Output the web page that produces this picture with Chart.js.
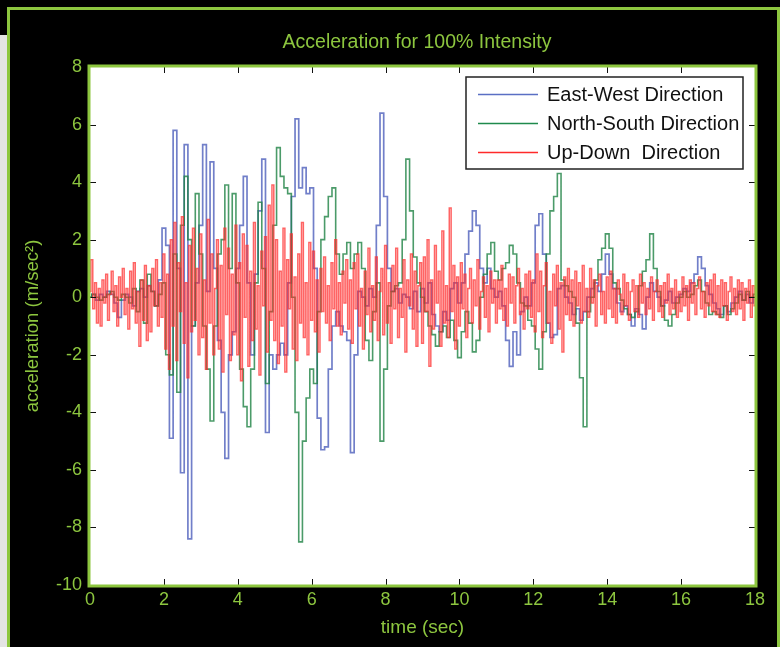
<!DOCTYPE html>
<html lang="en">
<head>
<meta charset="UTF-8" />
<title>Acceleration for 100% Intensity</title>
<script src="https://cdn.jsdelivr.net/npm/chart.js"></script>
<style>
  html, body { margin: 0; padding: 0; background: #000; }
  body { width: 780px; height: 647px; position: relative; overflow: hidden; }
  .side { position: absolute; left: 0; top: 35px; width: 7px; height: 612px; background: #e4e4e4; }
  .frame { position: absolute; left: 7px; top: 7px; width: 767px; height: 660px; border: 3px solid #8dc63f; }
  canvas { position: absolute; left: 0; top: 0; }
</style>
</head>
<body>
<div class="side"></div>
<div class="frame"></div>
<canvas id="accelChart" width="780" height="647"></canvas>

<script>
// sampling step (sec) of the horizontal records and of the vertical record
const stepHoriz = 0.1;
const stepVert = 0.05;

// East-West record, one value per 0.1 s (0 .. 18 s)
const eastWest = [
  0.0, 0.1, -0.1, 0.1, 0.0, 0.2, 0.1, -0.2, -0.7, -0.1,
  0.1, 0.0, -0.3, 0.2, 0.3, 0.0, 0.4, 0.2, -0.3, 0.6,
  2.4, 1.8, -4.9, 5.8, 1.0, -6.1, 5.3, -8.4, -1.0, 0.5,
  2.5, 5.3, 0.2, 4.7, 1.0, -1.5, -4.0, -5.6, -2.0, -1.2,
  1.0, 2.5, 4.2, 0.5, -2.0, 0.8, 3.0, 4.8, -4.7, -2.0,
  -2.5, -2.0, -1.6, -2.0, 0.5, 3.5, 6.2, 3.8, 4.5, 3.6,
  3.8, 1.0, -4.2, -5.3, -5.2, -2.5, -1.0, -0.5, -1.0, -1.2,
  -1.5, -5.4, -2.0, 0.2, 0.0, -0.3, 0.3, 0.0, 2.5, 6.4,
  3.5, 1.0, 0.2, 0.3, -0.2, 0.1, 0.0, -0.4, 0.2, -0.5,
  0.3, -0.2, 0.5, -0.6, -1.0, -1.2, -0.5, -0.8, 0.3, 0.5,
  -0.2, 0.5, 1.5, 2.3, 3.0, 2.5, 1.0, 0.5, 1.0, 0.3,
  0.0, 0.2, -0.3, -1.5, -2.4, -1.2, -2.0, -0.5, 0.0, -0.3,
  0.5, 2.5, 2.9, 1.5, -0.9, -1.4, -1.3, 0.3, 0.4, 0.0,
  -0.2, -0.6, -0.4, -0.8, -0.5, 0.0, 0.3, 0.5, 0.2, 0.8,
  1.5, 0.8, 0.3, -0.2, -0.5, -0.3, -0.6, -1.0, -0.4, -0.6,
  -1.1, 0.0, 0.5, 0.2, 0.0, -0.3, -0.1, 0.2, -0.2, 0.0,
  0.1, 0.3, 0.2, 0.5, 0.8, 1.4, 1.0, 0.4, 0.1, -0.2,
  -0.4, -0.6, -0.3, -0.5, -0.2, 0.0, 0.2, -0.1, 0.1, -0.2,
  0.0
];

// North-South record, one value per 0.1 s
const northSouth = [
  0.0, 0.1, 0.0, -0.1, 0.0, 0.1, 0.2, 0.0, -0.1, 0.1,
  0.0, -0.2, 0.3, -0.5, 0.6, -0.9, 0.8, 0.2, -0.3, 0.1,
  0.5, -2.0, -2.7, 1.5, -3.3, 2.5, 4.2, 2.0, -1.0, 3.6,
  1.5, -1.0, -2.5, -4.3, -1.0, 1.5, 2.0, 3.9, 1.0, 3.6,
  0.5, -2.5, -3.8, -4.5, -2.5, 0.5, 3.3, 1.0, -3.0, -0.5,
  2.5, 5.2, 4.2, 3.8, 3.6, 0.0, -4.0, -8.5, -5.0, -3.5,
  -2.5, -3.0, -0.5, 2.0, 2.8, 3.5, 3.8, 1.5, 0.8, 1.5,
  1.9, 1.0, 1.5, 1.9, 1.0, -1.5, -2.2, -0.5, 0.5, -5.0,
  -2.5, -0.3, 0.2, 0.4, 0.5, 2.0, 4.8, 3.0, 1.4, 0.5,
  0.0, -0.5, -1.0, -1.3, -1.7, -1.2, -1.0, -1.4, -0.8, -1.5,
  -2.1, -1.2, -0.5, -0.9, -1.9, -1.5, 0.0, 0.8, 1.5, 1.9,
  0.9, 0.6, 1.0, 1.2, 1.8, 1.5, 0.5, -0.2, -0.3, -0.8,
  -1.0, -1.8, -2.5, -1.2, 1.5, 3.0, 3.5, 4.3, 0.6, 0.4,
  0.2, 0.0, -0.9, -2.8, -4.5, -0.5, 0.0, 0.6, 1.3, 1.7,
  2.2, 1.7, 0.5, 0.3, -0.1, -0.4, -0.6, -0.7, -0.5, 0.4,
  0.9, 1.3, 2.2, 1.0, 0.2, -0.3, -0.8, -1.0, -0.6, -0.2,
  0.0, 0.2, 0.0, 0.1, 0.4, 0.6, 0.2, -0.2, -0.6, -0.5,
  -0.6, -0.7, -0.3, -0.6, -0.4, -0.2, 0.1, -0.1, 0.2, 0.0,
  0.1
];

// Up-Down record, one value per 0.05 s (one row = one second)
const upDown = [
  0.2, 1.3, -0.4, 0.5, -0.9, 0.3, -1.0, 0.6, -0.2, 0.8, -0.8, 0.1, 0.9, -0.5, 0.4, -1.0, 0.7, 0.0, 1.0, -0.6,
  0.3, -1.1, 0.9, -0.4, 1.2, -0.9, 0.2, -1.7, 0.6, -0.8, 1.1, -1.5, 0.4, -1.2, 1.0, -0.3, 1.3, -1.0, 0.5, -0.7,
  1.5, -1.8, 0.8, -2.5, 2.0, -1.0, 2.6, -2.2, 1.2, -0.5, 2.8, -1.6, 0.5, -2.8, 1.8, -1.2, 2.4, -0.8, 1.0, -2.0,
  2.2, -1.4, 0.6, -2.5, 2.7, -0.9, 1.5, -2.0, 0.3, 2.0, -1.8, 1.1, -2.6, 2.4, -0.6, 1.7, -2.2, 0.8, -1.3, 2.5,
  -2.0, 1.2, -2.9, 2.2, -0.7, 1.8, -2.4, 0.9, -1.5, 2.6, -1.1, 0.4, -2.7, 1.6, -0.3, 2.1, -1.9, 3.2, -0.8, 3.9,
  -1.5, 2.0, -2.3, 0.9, -1.0, 2.4, -2.6, 1.3, -0.4, 2.2, -1.8, 0.7, -2.2, 1.5, -0.9, 2.6, -1.4, 0.5, -2.0, 1.9,
  -0.8, 1.6, -1.2, 0.6, -1.9, 1.0, -0.5, 1.4, -0.9, 0.4, -1.5, 1.2, -0.4, 2.0, -1.0, 0.5, -1.3, 0.9, -0.2, 1.3,
  -1.1, 0.6, -1.6, 1.2, -0.4, 1.5, -1.0, 0.3, -1.8, 0.9, -0.6, 1.7, -1.2, 0.4, -0.8, 1.4, -1.5, 0.2, 1.0, -1.3,
  1.8, -0.9, 0.5, -1.6, 1.1, -0.4, 1.7, -1.4, 0.3, -0.7, 1.3, -1.9, 0.6, -0.3, 1.5, -1.1, 0.9, -1.7, 0.4, 1.2,
  -1.6, 1.4, -0.5, 2.0, -2.4, 0.6, -1.1, 1.8, -0.2, 0.9, -1.7, 2.3, -0.9, 0.4, -1.4, 3.1, -0.5, 1.1, -1.8, 0.7,
  -1.0, 1.2, -0.4, 0.8, -1.4, 0.3, 1.0, -0.9, 0.6, -0.3, 1.3, -1.1, 0.2, 0.7, -0.7, 0.4, -1.2, 0.9, -0.2, 0.6,
  -0.9, 0.6, -0.4, 1.1, -0.8, 0.3, -1.0, 0.8, -0.2, 0.7, -0.9, 0.4, 1.0, -0.6, 0.3, -1.1, 0.8, -0.4, 0.9, -0.7,
  0.6, -1.2, 1.5, -0.5, 0.9, -1.4, 0.4, 1.2, -0.9, 0.2, -1.6, 0.8, -0.3, 1.1, -1.1, 0.5, -1.9, 0.7, -0.6, 1.0,
  -0.8, 0.6, -1.0, 0.9, -0.3, 0.5, -0.9, 1.1, -0.5, 0.3, -0.7, 1.0, -0.2, 0.6, -1.0, 0.4, 0.8, -0.6, 0.2, -0.9,
  0.7, -0.4, 0.9, -0.7, 0.3, -0.9, 0.6, 0.1, -0.6, 0.8, -0.3, 0.5, -0.8, 0.2, 0.6, -0.5, 0.4, -0.7, 0.8, -0.2,
  0.5, -0.6, 0.3, -0.4, 0.7, -0.8, 0.2, 0.6, -0.5, 0.4, -0.7, 0.5, -0.2, 0.8, -0.6, 0.3, -0.4, 0.6, -0.7, 0.2,
  -0.5, 0.7, -0.3, 0.4, -0.8, 0.6, -0.2, 0.5, -0.6, 0.3, 0.7, -0.4, 0.2, -0.7, 0.5, -0.3, 0.6, -0.5, 0.8, -0.6,
  0.4, -0.7, 0.6, -0.3, 0.5, -0.8, 0.2, 0.7, -0.5, 0.3, -0.6, 0.6, -0.4, 0.5, -0.8, 0.3, -0.2, 0.6, -0.7, 0.4,
  -0.3
];

const seriesNames = ['East-West Direction', 'North-South Direction', 'Up-Down  Direction'];
const xTicks = [0, 2, 4, 6, 8, 10, 12, 14, 16, 18];
const yTicks = [-10, -8, -6, -4, -2, 0, 2, 4, 6, 8];

const GREEN = '#8dc63f';
const FONT = '"Liberation Sans", Arial, sans-serif';

function toPoints(values, step) {
  return values.map((v, i) => ({ x: Math.round(i * step * 100) / 100, y: v }));
}

// white plot area, green frame, inward tick marks, boxed legend
const plotDecor = {
  id: 'plotDecor',
  beforeDatasetsDraw(chart) {
    const { ctx, chartArea: a } = chart;
    ctx.save();
    ctx.fillStyle = '#fff';
    ctx.fillRect(a.left, a.top, a.right - a.left, a.bottom - a.top);
    ctx.restore();
  },
  afterDraw(chart) {
    const { ctx, chartArea: a, scales } = chart;
    ctx.save();
    // tick marks pointing into the plot
    ctx.strokeStyle = '#111';
    ctx.lineWidth = 1;
    ctx.beginPath();
    xTicks.slice(1, -1).forEach(v => {
      const px = Math.round(scales.x.getPixelForValue(v)) + 0.5;
      ctx.moveTo(px, a.bottom); ctx.lineTo(px, a.bottom - 6);
      ctx.moveTo(px, a.top); ctx.lineTo(px, a.top + 6);
    });
    yTicks.slice(1, -1).forEach(v => {
      const py = Math.round(scales.y.getPixelForValue(v)) + 0.5;
      ctx.moveTo(a.left, py); ctx.lineTo(a.left + 6, py);
      ctx.moveTo(a.right, py); ctx.lineTo(a.right - 6, py);
    });
    ctx.stroke();

    // green frame
    ctx.strokeStyle = GREEN;
    ctx.lineWidth = 3;
    ctx.strokeRect(a.left - 1, a.top - 1, a.right - a.left + 2, a.bottom - a.top + 2);

    // chart title
    ctx.fillStyle = GREEN;
    ctx.font = '19.5px ' + FONT;
    ctx.textAlign = 'center';
    ctx.textBaseline = 'middle';
    ctx.fillText('Acceleration for 100% Intensity', 417, 43);

    // legend box
    const w = 277, h = 92;
    const lx = a.right - 12 - w, ly = a.top + 10;
    ctx.fillStyle = '#fff';
    ctx.fillRect(lx, ly, w, h);
    ctx.strokeStyle = '#222';
    ctx.lineWidth = 1.5;
    ctx.strokeRect(lx, ly, w, h);
    ctx.font = '20px ' + FONT;
    ctx.textAlign = 'left';
    ctx.fillStyle = '#111';
    chart.data.datasets.forEach((ds, i) => {
      const y = ly + 17 + i * 29;
      ctx.strokeStyle = ds.legendColor;
      ctx.lineWidth = 1.5;
      ctx.beginPath();
      ctx.moveTo(lx + 12, y + 0.5);
      ctx.lineTo(lx + 72, y + 0.5);
      ctx.stroke();
      ctx.fillText(ds.label, lx + 81, y + 1);
    });
    ctx.restore();
  }
};

new Chart(document.getElementById('accelChart'), {
  type: 'line',
  data: {
    datasets: [
      {
        label: seriesNames[0],
        data: toPoints(eastWest, stepHoriz),
        borderColor: 'rgba(88, 104, 192, 0.85)',
        borderWidth: 1.7,
        legendColor: '#5a6fc4',
        order: 3
      },
      {
        label: seriesNames[1],
        data: toPoints(northSouth, stepHoriz),
        borderColor: 'rgba(30, 130, 68, 0.8)',
        borderWidth: 1.6,
        legendColor: '#1f8a4c',
        order: 2
      },
      {
        label: seriesNames[2],
        data: toPoints(upDown, stepVert),
        borderColor: 'rgba(255, 40, 40, 0.72)',
        borderWidth: 1.5,
        legendColor: '#ff2a2a',
        order: 1
      }
    ]
  },
  options: {
    responsive: false,
    animation: false,
    devicePixelRatio: 1,
    layout: { padding: { top: 67, right: 25, bottom: 0, left: 0 } },
    elements: {
      line: { tension: 0, stepped: 'middle' },
      point: { radius: 0 }
    },
    plugins: {
      legend: { display: false },
      tooltip: { enabled: false }
    },
    scales: {
      x: {
        type: 'linear',
        min: 0,
        max: 18,
        afterBuildTicks: s => { s.ticks = xTicks.map(v => ({ value: v })); },
        afterFit: s => { s.height = 62; },
        grid: { display: false, drawTicks: false },
        border: { display: false },
        ticks: { color: GREEN, font: { family: FONT, size: 18 }, padding: 4, maxRotation: 0 },
        title: {
          display: true,
          text: 'time (sec)',
          color: GREEN,
          font: { family: FONT, size: 19 },
          padding: { top: 0, bottom: 8 }
        }
      },
      y: {
        min: -10,
        max: 8,
        afterBuildTicks: s => { s.ticks = yTicks.map(v => ({ value: v })); },
        afterFit: s => { s.width = 90; },
        grid: { display: false, drawTicks: false },
        border: { display: false },
        ticks: { color: GREEN, font: { family: FONT, size: 18 }, padding: 8 },
        title: {
          display: true,
          text: 'acceleration (m/sec²)',
          color: GREEN,
          font: { family: FONT, size: 18.5 },
          padding: { top: 22, bottom: 0 }
        }
      }
    }
  },
  plugins: [plotDecor]
});
</script>
</body>
</html>
